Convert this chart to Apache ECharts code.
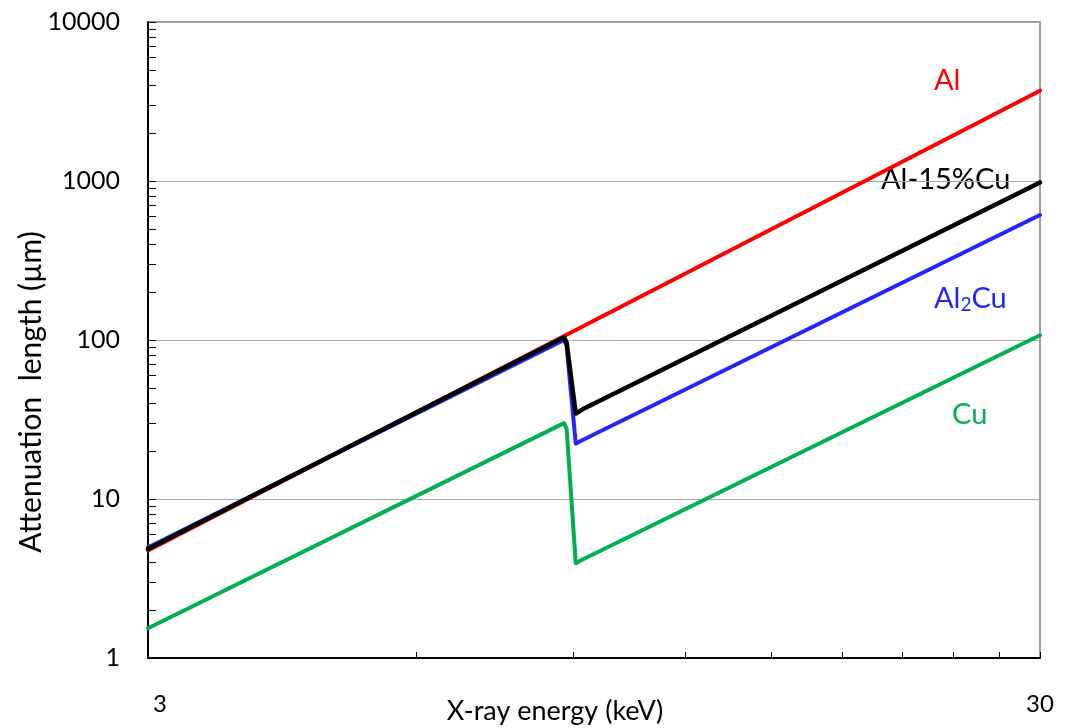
<!DOCTYPE html>
<html>
<head>
<meta charset="utf-8">
<script src="https://cdn.jsdelivr.net/npm/echarts@6/dist/echarts.min.js"></script>
<style>
  html, body { margin: 0; padding: 0; background: #fff; }
  #chart { width: 1067px; height: 728px; }
</style>
</head>
<body>
<div id="chart"></div>
<script>
// X-ray energy (keV) sample points: end points plus the Cu K-edge region
const energy = [3, 8.78, 8.84, 9.05, 9.2, 30];
const energyAl = [3, 30];

// Attenuation length (µm)
const al = [4.75, 3700];
const al15cu = [4.85, 104, 96, 34.5, 36.5, 980];
const al2cu = [4.95, 100, 92, 22.3, 23.4, 611];
const cu = [1.54, 30, 27.5, 3.95, 4.15, 107];

// Axis ticks and labels
const xTicks = [3, 6, 9, 12, 15, 18, 21, 24, 27, 30];
const xLabels = [3, 30];
const yLabels = [1, 10, 100, 1000, 10000];
const yMinor = [2, 3, 4, 5, 6, 7, 8, 9, 20, 30, 40, 50, 60, 70, 80, 90,
  200, 300, 400, 500, 600, 700, 800, 900, 2000, 3000, 4000, 5000, 6000, 7000, 8000, 9000];

const FONT = 'Lato';
const pair = (xs, ys) => xs.map((x, i) => [x, ys[i]]);

const chart = echarts.init(document.getElementById('chart'), null, { renderer: 'canvas' });

const lineSeries = (name, xs, ys, color, width) => ({
  name, type: 'line', data: pair(xs, ys), showSymbol: false, symbol: 'none',
  xAxisIndex: 0, yAxisIndex: 0, smooth: false,
  lineStyle: { color, width, join: 'round', cap: 'round' },
  emphasis: { disabled: true }, animation: false
});

chart.setOption({
  animation: false,
  backgroundColor: '#ffffff',
  grid: {
    left: 148, right: 27, top: 22, bottom: 70,
    show: true, borderColor: '#7f7f7f', borderWidth: 1.5, backgroundColor: 'transparent'
  },
  xAxis: [{
    type: 'log', logBase: 10, min: 3, max: 30,
    axisLine: { show: true, lineStyle: { color: '#000', width: 2 } },
    axisTick: { show: true, inside: true, length: 6, customValues: xTicks, lineStyle: { color: '#000', width: 1 } },
    axisLabel: {
      show: true, customValues: xLabels, margin: 34,
      color: '#000', fontFamily: FONT, fontSize: 24,
      formatter: v => (v === 3 ? '{first|3}' : String(v)),
      rich: { first: { padding: [0, 0, 0, 24], fontFamily: FONT, fontSize: 24, color: '#000' } }
    },
    splitLine: { show: false }
  }],
  yAxis: [{
    type: 'log', logBase: 10, min: 1, max: 10000,
    axisLine: { show: true, lineStyle: { color: '#000', width: 2 } },
    axisTick: { show: true, inside: true, length: 8, customValues: yLabels, lineStyle: { color: '#000', width: 1 } },
    axisLabel: {
      show: true, customValues: yLabels, margin: 28, color: '#000', fontFamily: FONT, fontSize: 25,
      formatter: v => String(v)
    },
    splitLine: { show: true, lineStyle: { color: '#a6a6a6', width: 1 } }
  }, {
    type: 'log', logBase: 10, min: 1, max: 10000, position: 'left',
    axisLine: { show: false },
    axisTick: { show: true, inside: true, length: 8, customValues: yMinor, lineStyle: { color: '#000', width: 1 } },
    axisLabel: { show: false },
    splitLine: { show: false }
  }],
  series: [
    lineSeries('Al', energyAl, al, '#ff0000', 4),
    lineSeries('Al2Cu', energy, al2cu, '#2424ff', 4),
    lineSeries('Cu', energy, cu, '#00b050', 4),
    lineSeries('Al-15%Cu', energy, al15cu, '#000000', 4.5)
  ],
  graphic: [
    { type: 'text', left: 934, top: 66, style: { text: 'Al', fill: '#ff0000', font: `29px ${FONT}` } },
    { type: 'text', left: 881, top: 165, style: { text: 'Al-15%Cu', fill: '#000', font: `29px ${FONT}` } },
    { type: 'text', left: 934, top: 284, style: {
      text: 'Al{s|2}Cu', fill: '#2424ff', font: `29px ${FONT}`,
      rich: { s: { fontSize: 19, fontFamily: FONT, fill: '#2424ff', verticalAlign: 'bottom', padding: [12, 0, 0, 0] } }
    } },
    { type: 'text', left: 952, top: 400, style: { text: 'Cu', fill: '#00b050', font: `29px ${FONT}` } },
    { type: 'text', x: 555, y: 711, style: { text: 'X-ray energy (keV)', fill: '#000', font: `27px ${FONT}`, align: 'center', verticalAlign: 'middle' } },
    { type: 'text', x: 31, y: 392, rotation: Math.PI / 2, style: { text: 'Attenuation  length (µm)', fill: '#000', font: `30px ${FONT}`, align: 'center', verticalAlign: 'middle' } }
  ]
});
</script>
</body>
</html>
